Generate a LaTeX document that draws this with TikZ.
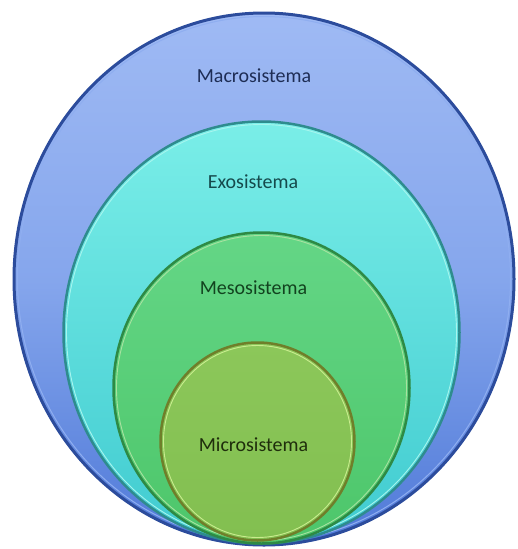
\documentclass[tikz,border=0pt]{standalone}
\usepackage{fontspec}
\setmainfont{Carlito}
\begin{document}
\begin{tikzpicture}[x=1pt,y=-1pt,
  lbl/.style={font=\fontsize{20}{22}\selectfont, inner sep=0pt, anchor=center}]
\definecolor{macroT}{HTML}{9FBAF4}
\definecolor{macroB}{HTML}{4F79D8}
\definecolor{macroR}{HTML}{2C4C9C}
\definecolor{macroL}{HTML}{8FAEF0}
\definecolor{exoT}{HTML}{7AEEE8}
\definecolor{exoB}{HTML}{40CBD0}
\definecolor{exoR}{HTML}{2E8C8E}
\definecolor{exoL}{HTML}{A6F5EE}
\definecolor{mesoT}{HTML}{64D686}
\definecolor{mesoB}{HTML}{4DC66A}
\definecolor{mesoR}{HTML}{2E8A45}
\definecolor{mesoL}{HTML}{A8E2A0}
\definecolor{microT}{HTML}{8CC75A}
\definecolor{microB}{HTML}{82BF50}
\definecolor{microR}{HTML}{6F7F2A}
\definecolor{microL}{HTML}{C9EC8E}
\definecolor{macroTx}{HTML}{1E2D55}
\definecolor{exoTx}{HTML}{154A4C}
\definecolor{mesoTx}{HTML}{12431F}
\definecolor{microTx}{HTML}{1F2E0C}
\useasboundingbox (0,0) rectangle (518,549);
\fill[white] (0,0) rectangle (518,549);
% Macrosistema
\shade[top color=macroT, bottom color=macroB, middle color=macroL!85!macroB] (264,279) ellipse [x radius=251, y radius=267];
\draw[macroR, line width=3pt] (264,279) ellipse [x radius=250, y radius=266];
\draw[macroL, line width=1pt] (264,279) ellipse [x radius=246.5, y radius=262.5];
% Exosistema
\shade[top color=exoT, bottom color=exoB] (261.5,332.5) ellipse [x radius=198.5, y radius=211.5];
\draw[exoR, line width=2.5pt] (261.5,332.5) ellipse [x radius=198, y radius=211];
\draw[exoL, line width=0.9pt] (261.5,332.5) ellipse [x radius=195, y radius=208];
% Mesosistema
\shade[top color=mesoT, bottom color=mesoB] (261.5,388) ellipse [x radius=148.5, y radius=156];
\draw[mesoR, line width=2.5pt] (261.5,388) ellipse [x radius=148, y radius=155.5];
\draw[mesoL, line width=0.9pt] (261.5,388) ellipse [x radius=145, y radius=152.5];
% Microsistema
\shade[top color=microT, bottom color=microB] (257.5,441.5) ellipse [x radius=97.5, y radius=99.5];
\draw[microR, line width=2.5pt] (257.5,441.5) ellipse [x radius=97, y radius=99];
\draw[microL, line width=0.9pt] (257.5,441.5) ellipse [x radius=94, y radius=96];
% labels
\node[lbl, text=macroTx] (macro) at (254,76) {Macrosistema};
\node[lbl, text=exoTx] (exo) at (253,182) {Exosistema};
\node[lbl, text=mesoTx] (meso) at (253.5,288) {Mesosistema};
\node[lbl, text=microTx] (micro) at (253.5,445) {Microsistema};
\end{tikzpicture}
\end{document}
